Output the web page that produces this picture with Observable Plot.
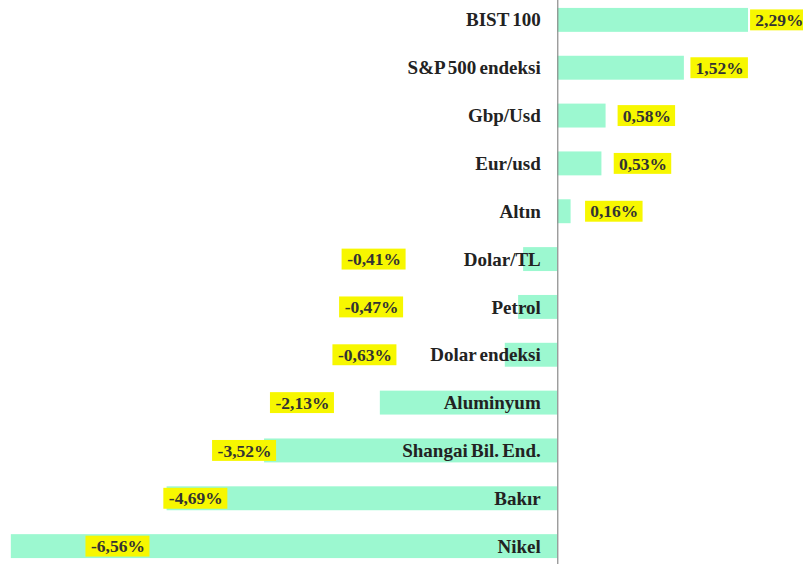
<!DOCTYPE html>
<html>
<head>
<meta charset="utf-8">
<script src="https://cdn.jsdelivr.net/npm/d3@7"></script>
<script src="https://cdn.jsdelivr.net/npm/@observablehq/plot@0.6"></script>
<style>
  html, body { margin: 0; padding: 0; background: #ffffff; }
  #chart svg { display: block; }
  .cat text { word-spacing: -1.5px; }
</style>
</head>
<body>
<div id="chart"></div>
<script>
const categories = ["BIST 100", "S&P 500 endeksi", "Gbp/Usd", "Eur/usd", "Altın", "Dolar/TL", "Petrol", "Dolar endeksi", "Aluminyum", "Shangai Bil. End.", "Bakır", "Nikel"];
const changes = [2.29, 1.52, 0.58, 0.53, 0.16, -0.41, -0.47, -0.63, -2.13, -3.52, -4.69, -6.56];

const fmt = v => v.toFixed(2).replace(".", ",") + "%";
const pxPerUnit = 803 / (2.95 + 6.69);
const data = categories.map((c, i) => {
  const v = changes[i];
  const label = fmt(v);
  // label anchor rule (data units): right of positive bars, left side for negatives
  const lx = v >= 0 ? 0.53 + 0.93 * v : -2.0 + 0.5 * v;
  const hw = (label.length * 6.5 + 25) / 2 / pxPerUnit;
  return {category: c, value: v, label, lx, x1: lx - hw, x2: lx + hw};
});

const chart = Plot.plot({
  width: 803,
  height: 568,
  marginTop: 0,
  marginBottom: 0,
  marginLeft: 0,
  marginRight: 0,
  x: {domain: [-6.69, 2.95], range: [0, 803], axis: null},
  y: {domain: categories, range: [-16, 582], padding: 0.5, round: false, axis: null},
  style: {background: "#ffffff"},
  marks: [
    Plot.barX(data, {x: "value", y: "category", fill: "#9cf8d0"}),
    Plot.barX(data, {x1: "x1", x2: "x2", y: "category", fill: "#f7f700", insetTop: 1.5, insetBottom: 1.5}),
    Plot.text(data, {x: "lx", y: "category", text: "label", fill: "#333333", className: "val",
      fontFamily: "'Liberation Serif', 'DejaVu Serif', serif", fontWeight: "bold", fontSize: 17.5}),
    Plot.text(data, {x: 0, y: "category", text: "category", textAnchor: "end", dx: -17, fill: "#222222", className: "cat",
      fontFamily: "'Liberation Serif', 'DejaVu Serif', serif", fontWeight: "bold", fontSize: 19}),
    Plot.ruleX([0], {stroke: "#8a8a8a", strokeWidth: 1.2, insetBottom: 4})
  ]
});
document.getElementById("chart").appendChild(chart);
</script>
</body>
</html>
